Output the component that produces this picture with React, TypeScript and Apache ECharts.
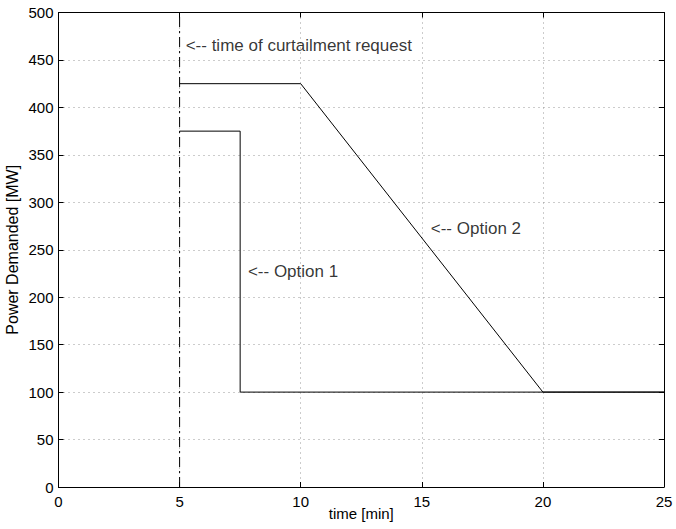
import React, { useEffect, useRef } from "react";
import * as echarts from "echarts";

const xTicks = { min: 0, max: 25, interval: 5 };
const yTicks = { min: 0, max: 500, interval: 50 };

const option1: [number, number][] = [
  [5, 375],
  [7.5, 375],
  [7.5, 100],
  [25, 100],
];
const option2: [number, number][] = [
  [5, 425],
  [10, 425],
  [20, 100],
  [25, 100],
];
const curtailmentLine: [number, number][] = [
  [5, 0],
  [5, 500],
];
const annotations: [number, number, string][] = [
  [5.23, 465, "<-- time of curtailment request"],
  [15.35, 272, "<-- Option 2"],
  [7.8, 227, "<-- Option 1"],
];

const FONT = "'Liberation Sans', Arial, Helvetica, sans-serif";

export default function App() {
  const ref = useRef<HTMLDivElement>(null);
  useEffect(() => {
    document.body.style.margin = "0";
    if (!ref.current) return;
    const chart = echarts.init(ref.current, undefined, { renderer: "svg" });
    const axisLine = { show: true, onZero: false, lineStyle: { color: "#000", width: 1 } };
    const tick = { show: true, inside: true, length: 5, lineStyle: { color: "#000" } };
    const split = { show: true, lineStyle: { color: "#999", type: [1, 4] as any, width: 1 } };
    chart.setOption({
      animation: false,
      backgroundColor: "#fff",
      textStyle: { fontFamily: FONT },
      grid: {
        left: 58.5,
        right: 12,
        top: 12.5,
        bottom: 42,
        containLabel: false,
        outerBoundsMode: "none",
      },
      xAxis: [
        {
          type: "value",
          ...xTicks,
          position: "bottom",
          name: "time [min]",
          nameLocation: "middle",
          nameGap: 26,
          nameMoveOverlap: false,
          nameTextStyle: { color: "#000", fontSize: 15, fontFamily: FONT, verticalAlign: "middle" },
          axisLine,
          axisTick: tick,
          axisLabel: { color: "#000", fontSize: 15, margin: 7, fontFamily: FONT },
          splitLine: split,
        },
        {
          type: "value",
          ...xTicks,
          position: "top",
          axisLine,
          axisTick: tick,
          axisLabel: { show: false },
          splitLine: { show: false },
        },
      ],
      yAxis: [
        {
          type: "value",
          ...yTicks,
          position: "left",
          name: "Power Demanded [MW]",
          nameLocation: "middle",
          nameGap: 46,
          nameMoveOverlap: false,
          nameTextStyle: { color: "#000", fontSize: 16, fontFamily: FONT, verticalAlign: "middle" },
          axisLine,
          axisTick: tick,
          axisLabel: { color: "#000", fontSize: 15, margin: 5, fontFamily: FONT },
          splitLine: split,
        },
        {
          type: "value",
          ...yTicks,
          position: "right",
          axisLine,
          axisTick: tick,
          axisLabel: { show: false },
          splitLine: { show: false },
        },
      ],
      series: [
        {
          type: "line",
          data: curtailmentLine,
          showSymbol: false,
          symbol: "none",
          lineStyle: { color: "#000", width: 1, type: [10, 4, 2, 4] },
          z: 3,
        },
        {
          type: "line",
          data: option1,
          showSymbol: false,
          symbol: "none",
          lineStyle: { color: "#000", width: 1 },
        },
        {
          type: "line",
          data: option2,
          showSymbol: false,
          symbol: "none",
          lineStyle: { color: "#000", width: 1 },
        },
        {
          type: "scatter",
          data: annotations,
          symbolSize: 1,
          itemStyle: { color: "rgba(0,0,0,0)" },
          z: 10,
          label: {
            show: true,
            position: "right",
            distance: 0,
            color: "#000",
            fontSize: 17,
            fontFamily: FONT,
            formatter: (p: any) => p.data[2],
          },
        },
      ],
    });
    return () => chart.dispose();
  }, []);
  return <div ref={ref} style={{ width: 676, height: 529 }} />;
}
